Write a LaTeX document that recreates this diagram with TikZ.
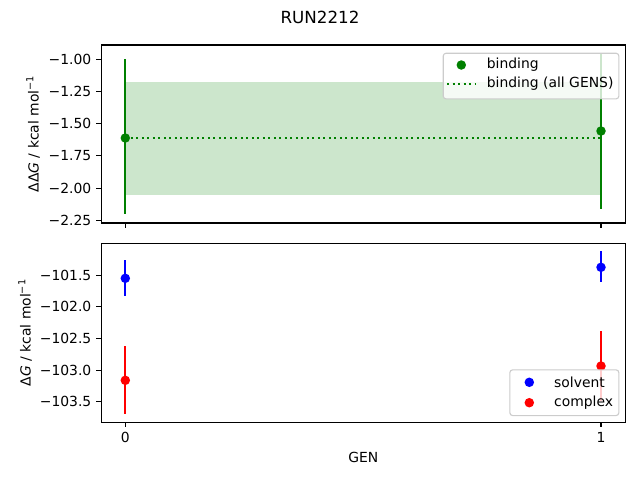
\documentclass[tikz,border=0pt]{standalone}
\usepackage{fontspec}
\setmainfont{DejaVu Sans}
\usepackage{tikz}
\usetikzlibrary{positioning}
\definecolor{mgreen}{RGB}{0,128,0}
\definecolor{mblue}{RGB}{0,0,255}
\definecolor{mred}{RGB}{255,0,0}
\definecolor{lgray}{RGB}{204,204,204}
\tikzstyle{frame} = [draw=black, line width=1.1pt]
\tikzstyle{tick} = [draw=black, line width=1.1pt]
\tikzstyle{ticklabel} = [font=\fontsize{13.9}{16}\selectfont, inner sep=0pt]
\tikzstyle{ebar} = [line width=2.1pt]
\tikzstyle{dot} = [circle, inner sep=0pt, minimum size=9.5pt]
\tikzstyle{legbox} = [draw=lgray, line width=1.1pt, fill=white, fill opacity=0.8, rounded corners=2.8pt]
\tikzstyle{legtext} = [font=\fontsize{13.9}{16}\selectfont, inner sep=0pt, anchor=west]

\begin{document}
\begin{tikzpicture}[x=1pt, y=-1pt]
\useasboundingbox (0,0) rectangle (640,480);

% title =============================
\node[font=\fontsize{16.7}{19}\selectfont] (title) at (320,17) {RUN2212};

% top panel =============================
\fill[mgreen, opacity=0.2] (125.3,82) rectangle (601,194.7);
\draw[mgreen, line width=2.1pt, dash pattern=on 2.1pt off 3.4pt] (125.3,138) -- (601,138);

\draw[ebar, mgreen] (125.3,59.3) -- (125.3,214.3);
\draw[ebar, mgreen] (601,53) -- (601,209);
\node[dot, fill=mgreen] (b0) at (125.3,138) {};
\node[dot, fill=mgreen] (b1) at (601,131) {};

\draw[frame] (101.3,45) rectangle (625.5,223);
\foreach \y/\lab in {59.3/{−1.00}, 91.5/{−1.25}, 123.7/{−1.50}, 155.9/{−1.75}, 188.1/{−2.00}, 220.3/{−2.25}}{
  \draw[tick] (101.3,\y) -- (96.4,\y);
  \node[ticklabel, anchor=east] at (91.5,\y) {\lab};
}
\foreach \x in {125.3, 601}{
  \draw[tick] (\x,223) -- (\x,227.9);
}
\node[ticklabel, rotate=90] (ylabtop) at (33,134) {ΔΔ\textit{G} / kcal mol\textsuperscript{−1}};

% top legend
\node[legbox, minimum width=175.6pt, minimum height=45.6pt, anchor=north west] (legtop) at (442.7,52.7) {};
\node[dot, fill=mgreen] (legb) at (461.3,65) {};
\node[legtext] (legbt) at (486.7,65) {binding};
\coordinate (lda) at (447,83.7);
\coordinate (ldb) at (475,83.7);
\draw[mgreen, line width=2.1pt, dash pattern=on 2.1pt off 3.4pt] (lda) -- (ldb);
\node[legtext] (legat) at (486.7,83.7) {binding (all GENS)};

% bottom panel =============================
\draw[ebar, mblue] (125.3,260) -- (125.3,295.7);
\draw[ebar, mred] (125.3,346) -- (125.3,413.7);
\draw[ebar, mblue] (601,251) -- (601,282.3);
\draw[ebar, mred] (601,331) -- (601,401);
\node[dot, fill=mblue] (s0) at (125.3,278.3) {};
\node[dot, fill=mred] (c0) at (125.3,380.3) {};
\node[dot, fill=mblue] (s1) at (601,267.3) {};
\node[dot, fill=mred] (c1) at (601,366) {};

\draw[frame] (101.3,243.3) rectangle (625.5,422.3);
\foreach \y/\lab in {275.3/{−101.5}, 306.9/{−102.0}, 338.5/{−102.5}, 370.1/{−103.0}, 401.7/{−103.5}}{
  \draw[tick] (101.3,\y) -- (96.4,\y);
  \node[ticklabel, anchor=east] at (91.5,\y) {\lab};
}
\foreach \x/\lab in {125.3/0, 601/1}{
  \draw[tick] (\x,422.3) -- (\x,427.2);
  \node[ticklabel] at (\x,437.3) {\lab};
}
\node[ticklabel, rotate=90] (ylabbot) at (25,332.7) {Δ\textit{G} / kcal mol\textsuperscript{−1}};
\node[ticklabel] (xlab) at (363.4,457) {GEN};

% bottom legend
\node[legbox, minimum width=109pt, minimum height=45.7pt, anchor=north west] (legbot) at (509.3,369.3) {};
\node[dot, fill=mblue] (legs) at (529.3,382.3) {};
\node[legtext] (legst) at (554,382.3) {solvent};
\node[dot, fill=mred] (legc) at (529.3,402.7) {};
\node[legtext] (legct) at (554,402.7) {complex};

\end{tikzpicture}
\end{document}
